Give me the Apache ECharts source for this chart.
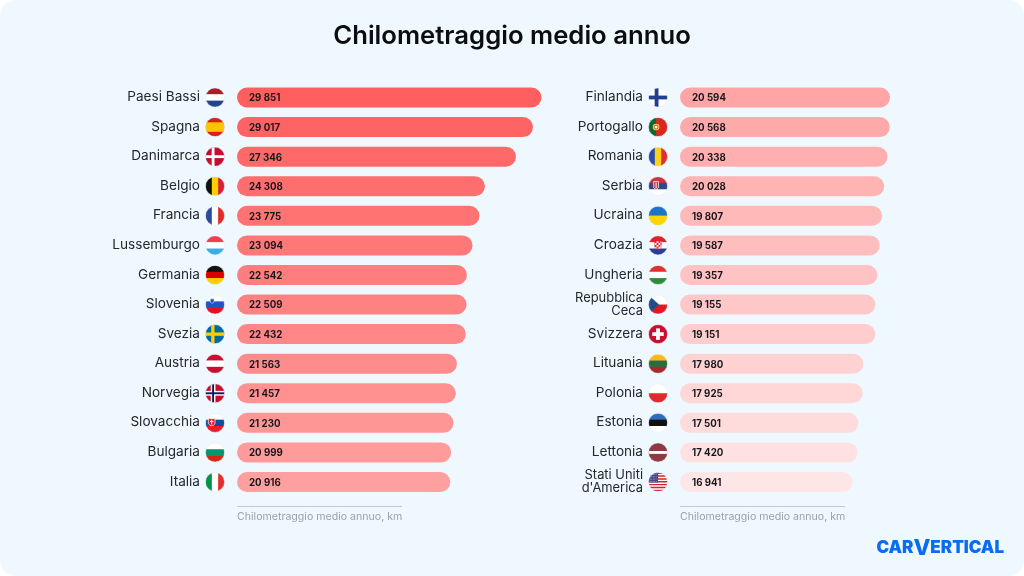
<!DOCTYPE html>
<html><head><meta charset="utf-8">
<style>html,body{margin:0;padding:0;background:#fff}#c{width:1024px;height:576px}</style>
<script src="https://cdn.jsdelivr.net/npm/echarts@6/dist/echarts.min.js"></script>
</head><body><div id="c"></div>
<script>
const titleText = 'Chilometraggio medio annuo';
const axisCaption = 'Chilometraggio medio annuo, km';
const countriesLeft = ['Paesi Bassi','Spagna','Danimarca','Belgio','Francia','Lussemburgo','Germania','Slovenia','Svezia','Austria','Norvegia','Slovacchia','Bulgaria','Italia'];
const valuesLeft = [29851,29017,27346,24308,23775,23094,22542,22509,22432,21563,21457,21230,20999,20916];
const countriesRight = ['Finlandia','Portogallo','Romania','Serbia','Ucraina','Croazia','Ungheria','Repubblica\nCeca','Svizzera','Lituania','Polonia','Estonia','Lettonia',"Stati Uniti\nd'America"];
const valuesRight = [20594,20568,20338,20028,19807,19587,19357,19155,19151,17980,17925,17501,17420,16941];

const h3 = (a,b,c) => `<rect width="40" height="14" fill="${a}"/><rect y="13.3" width="40" height="14" fill="${b}"/><rect y="26.6" width="40" height="14" fill="${c}"/>`;
const v3 = (a,b,c) => `<rect width="14" height="40" fill="${a}"/><rect x="13.3" width="14" height="40" fill="${b}"/><rect x="26.6" width="14" height="40" fill="${c}"/>`;
const cross = (bg,fg,x,w) => `<rect width="40" height="40" fill="${bg}"/><rect x="${x}" width="${w}" height="40" fill="${fg}"/><rect y="${20-w/2}" width="40" height="${w}" fill="${fg}"/>`;
const flags = {
 'Paesi Bassi':h3('#AE1C28','#fff','#21468B'),
 'Spagna':'<rect width="40" height="40" fill="#D8201A"/><rect y="10" width="40" height="20" fill="#FFC400"/>',
 'Danimarca':cross('#C60C30','#fff',13,6),
 'Belgio':v3('#111','#FFD000','#D8202E'),
 'Francia':v3('#2A4B9B','#fff','#E02B2B'),
 'Lussemburgo':h3('#EF4050','#fff','#3BAEE8'),
 'Germania':h3('#111','#DD0000','#FFCE00'),
 'Slovenia':h3('#fff','#1F54C8','#E3141F')+'<path d="M10 8h8v7q-4 5-8 0z" fill="#1F54C8" stroke="#fff"/>',
 'Svezia':cross('#006AA7','#FECC00',12,7),
 'Austria':h3('#C8102E','#fff','#C8102E'),
 'Norvegia':cross('#C8102E','#fff',11,10)+'<rect x="14" width="4" height="40" fill="#00205B"/><rect y="18" width="40" height="4" fill="#00205B"/>',
 'Slovacchia':h3('#fff','#0B4EA2','#EE1C25')+'<path d="M6 11h14v11q-7 8-14 0z" fill="#EE1C25" stroke="#fff" stroke-width="1.5"/><rect x="12" y="13" width="2" height="10" fill="#fff"/><rect x="9.5" y="16" width="7" height="2" fill="#fff"/>',
 'Bulgaria':h3('#fff','#00966E','#D62612'),
 'Italia':v3('#009246','#fff','#E0302E'),
 'Finlandia':cross('#fff','#1F3E8F',13,8),
 'Portogallo':'<rect width="40" height="40" fill="#DA291C"/><rect width="16" height="40" fill="#046A38"/><circle cx="16" cy="20" r="7" fill="#FFD23A"/><circle cx="16" cy="20" r="4" fill="#fff" stroke="#C8102E" stroke-width="1.5"/>',
 'Romania':v3('#2B4CA8','#FCD116','#E03030'),
 'Serbia':h3('#C6363C','#2A4A8C','#fff')+'<path d="M11 10h10v13q-5 7-10 0z" fill="#C6363C" stroke="#fff" stroke-width="1.5"/><rect x="15" y="12" width="2" height="12" fill="#fff"/>',
 'Ucraina':'<rect width="40" height="20" fill="#1C74C8"/><rect y="20" width="40" height="20" fill="#FFD500"/>',
 'Croazia':h3('#E0202A','#fff','#2A3F94')+'<path d="M13 11h14v13q-7 8-14 0z" fill="#fff" stroke="#E0202A"/><path d="M13 11h4v4h-4zM21 11h4v4h-4zM17 15h4v4h-4zM25 15h2v4h-2zM13 19h4v4h-4zM21 19h4v4h-4zM17 23h4v4h-4z" fill="#E0202A"/>',
 'Ungheria':h3('#E0312E','#fff','#2E8B3E'),
 'Repubblica\nCeca':'<rect width="40" height="20" fill="#fff"/><rect y="20" width="40" height="20" fill="#DD1A22"/><path d="M0 0L22 20L0 40z" fill="#1F4E8C"/>',
 'Svizzera':'<rect width="40" height="40" fill="#C8102E"/><rect x="16" y="8" width="8" height="24" fill="#fff"/><rect x="8" y="16" width="24" height="8" fill="#fff"/>',
 'Lituania':h3('#FDB913','#2A6E3F','#A8282C'),
 'Polonia':'<rect width="40" height="20" fill="#fff"/><rect y="20" width="40" height="20" fill="#E0292E"/>',
 'Estonia':h3('#2C6FC0','#111','#fff'),
 'Lettonia':'<rect width="40" height="40" fill="#8E3A40"/><rect y="17" width="40" height="6" fill="#fff"/>',
 "Stati Uniti\nd'America":'<rect width="40" height="40" fill="#fff"/><path d="M0 1.5h40M0 7.5h40M0 13.5h40M0 19.5h40M0 25.5h40M0 31.5h40M0 37.5h40" stroke="#D8202E" stroke-width="3"/><rect width="20" height="21" fill="#3C4A8C"/><path d="M3 4h14M3 9h14M3 14h14M3 19h14" stroke="#C5CBE8" stroke-width="1.6" stroke-dasharray="1.6 1.6"/>'
};
function flagSymbol(name){
  const svg = `<svg xmlns="http://www.w3.org/2000/svg" width="80" height="80" viewBox="-1 -1 42 42"><defs><clipPath id="k"><circle cx="20" cy="20" r="20"/></clipPath></defs><g clip-path="url(#k)">${flags[name]}</g><circle cx="20" cy="20" r="20" fill="none" stroke="#E3E8EE" stroke-width="1"/></svg>`;
  return 'image://data:image/svg+xml;charset=utf-8,' + encodeURIComponent(svg);
}
const FONT = 'Inter, "Noto Sans", sans-serif';
function rankColor(rank){
  const t = rank/27;
  const c = v => Math.round(v).toString(16).padStart(2,'0');
  return '#ff' + c(95+t*135) + c(95+t*135);
}
const fmt = v => String(v).replace(/(\d)(\d{3})$/,'$1 $2');
const GRID_TOP = 82.7, GRID_H = 414.1, GRID_W = 306, LEFTS = [237,680];
function sidePanel(i, names, vals, offset){
  return {
    grid:{left:LEFTS[i],top:GRID_TOP,width:GRID_W,height:GRID_H,containLabel:false},
    xAxis:{gridIndex:i,type:'value',min:0,max:30000,show:false},
    yAxis:{gridIndex:i,type:'category',inverse:true,data:names,axisLine:{show:false},axisTick:{show:false},
      axisLabel:{margin:37,align:'right',fontFamily:FONT,fontSize:13.6,lineHeight:14,color:'#23272E',padding:[0,0,1,0],
        formatter:v=>{ if(!v.includes('\n')) return v; const p=v.split('\n'); return `{m1|${p[0]}}\n{m|${p[1]}}`; },
        rich:{m:{fontFamily:FONT,fontSize:12.9,lineHeight:14,color:'#23272E',align:'right'},
              m1:{fontFamily:FONT,fontSize:12.9,lineHeight:14,color:'#23272E',align:'right',padding:[2,0,0,0]}}}},
    series:[
     {type:'bar',xAxisIndex:i,yAxisIndex:i,barWidth:20,data:vals.map((v,k)=>({value:v,itemStyle:{color:rankColor(k+offset),borderRadius:10}})),
      label:{show:true,position:'insideLeft',distance:12,offset:[0,1],fontFamily:FONT,fontWeight:700,fontSize:9.7,color:'#14171C',formatter:p=>fmt(p.value)},silent:true},
     {type:'scatter',xAxisIndex:i,yAxisIndex:i,clip:false,symbolSize:20,symbolOffset:[-22,0],silent:true,z:5,itemStyle:{opacity:1},
      data:names.map((n,k)=>({value:[0,k],symbol:flagSymbol(n)}))}
    ]
  };
}
const L = sidePanel(0,countriesLeft,valuesLeft,0), R = sidePanel(1,countriesRight,valuesRight,14);
const captionG = LEFTS.flatMap(x=>[
  {type:'line',shape:{x1:x,y1:506.5,x2:x+165,y2:506.5},style:{stroke:'#C4CAD2',lineWidth:1},z:2},
  {type:'text',x:x,y:517,style:{text:axisCaption,fontFamily:FONT,fontSize:10.6,fill:'#9AA1A9',verticalAlign:'middle'},z:2}
]);
const chart = echarts.init(document.getElementById('c'),null,{renderer:'canvas'});
chart.setOption({
  animation:false,
  backgroundColor:'transparent',
  title:{text:titleText,left:'center',top:18,textStyle:{fontFamily:FONT,fontWeight:600,fontSize:25.7,color:'#0B0D11'}},
  grid:[L.grid,R.grid],xAxis:[L.xAxis,R.xAxis],yAxis:[L.yAxis,R.yAxis],
  series:[...L.series,...R.series],
  graphic:[
    {type:'rect',shape:{x:0,y:0,width:1024,height:576,r:16},style:{fill:'#F0F8FF'},z:-10,silent:true},
    ...captionG,
    {type:'text',x:1004,y:548,style:{text:'{a|CAR}{v|V}{a|ERTICAL}',align:'right',verticalAlign:'middle',
      rich:{a:{fontFamily:FONT,fontWeight:900,fontSize:17,fill:'#0A6CF0',color:'#0A6CF0'},v:{fontFamily:FONT,fontWeight:800,fontSize:22,fill:'#0A6CF0',color:'#0A6CF0'}}},z:2}
  ]
});
</script></body></html>
